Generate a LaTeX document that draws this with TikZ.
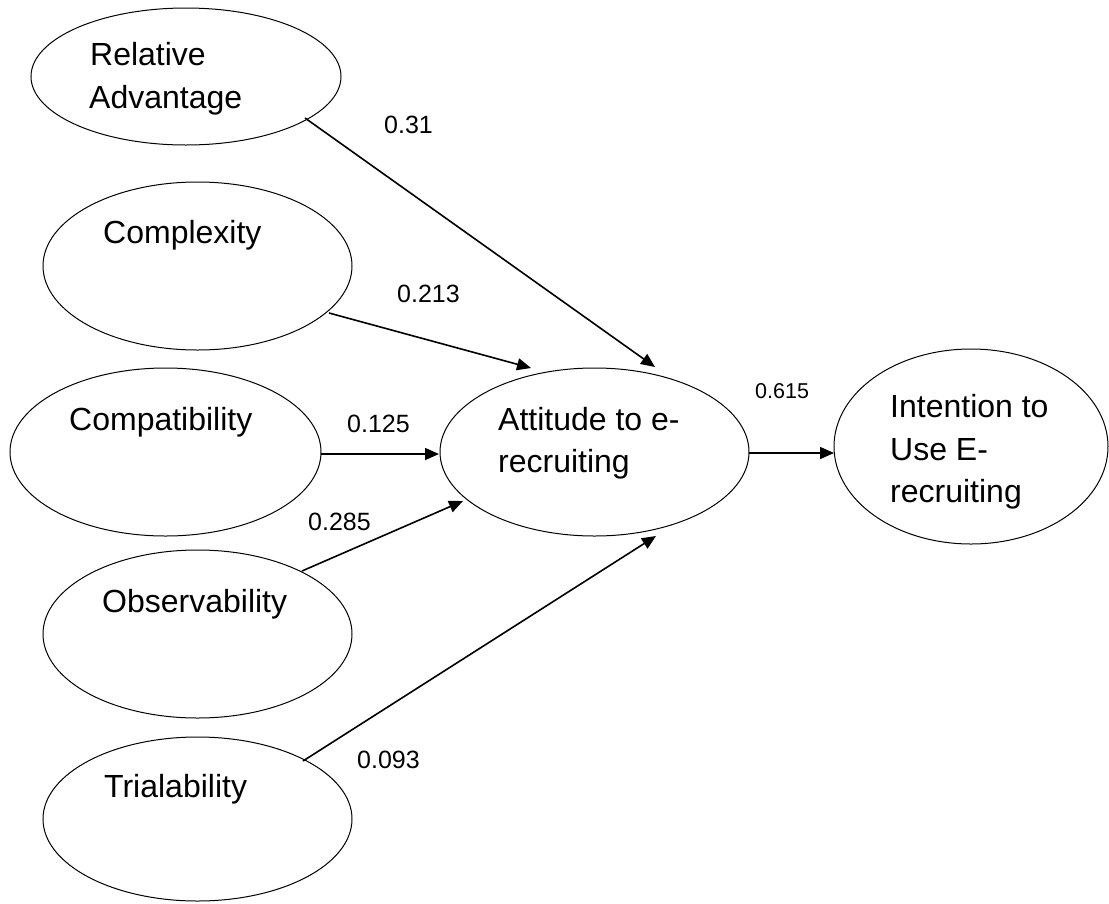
\documentclass[tikz,border=0pt]{standalone}
\usepackage{fontspec}
\setmainfont{Liberation Sans}
\usetikzlibrary{shapes.geometric,arrows.meta,calc}
\begin{document}
\begin{tikzpicture}[x=1pt,y=-1pt,
  oval/.style={draw,ellipse,line width=1pt,inner sep=0pt},
  txt/.style={anchor=base west,inner sep=0pt,font=\fontsize{32}{38}\selectfont},
  coef/.style={anchor=base west,inner sep=0pt,font=\fontsize{25}{30}\selectfont},
  path/.style={line width=1.6pt,-{Triangle[length=14pt,width=12pt]}}]
\useasboundingbox (0,0) rectangle (1109,903);
% ellipses
\node[oval,minimum width=310pt,minimum height=137pt] (ra) at (186,76.5) {};
\node[oval,minimum width=309pt,minimum height=168pt] (cx) at (197.5,266) {};
\node[oval,minimum width=311pt,minimum height=168pt] (cp) at (165.5,452) {};
\node[oval,minimum width=309pt,minimum height=168pt] (ob) at (197.5,634) {};
\node[oval,minimum width=309pt,minimum height=164pt] (tr) at (197.5,819) {};
\node[oval,minimum width=309pt,minimum height=168pt] (att) at (594.5,452) {};
\node[oval,minimum width=274pt,minimum height=195pt] (int) at (971,446.5) {};
% texts
\node[txt] (ra1) at (90,65) {Relative};
\node[txt] (ra2) at (89,108) {Advantage};
\node[txt] (cx1) at (103,243) {Complexity};
\node[txt] (cp1) at (69,430) {Compatibility};
\node[txt] (ob1) at (102,612) {Observability};
\node[txt] (tr1) at (104,797) {Trialability};
\node[txt] (at1) at (498,430) {Attitude to e-};
\node[txt] (at2) at (498,472) {recruiting};
\node[txt] (in1) at (890,417) {Intention to};
\node[txt] (in2) at (890,460) {Use E-};
\node[txt] (in3) at (890,502) {recruiting};
% connectors
\draw[path] ($(ra)+(119,41.5)$) -- ($(att)+(60.5,-85)$);
\draw[path] ($(cx)+(131.5,47)$) -- ($(att)+(-63.5,-84)$);
\draw[path] ($(cp)+(155.5,2)$) -- ($(att)+(-155.5,2)$);
\draw[path] ($(ob)+(104.5,-63)$) -- ($(att)+(-131.5,49)$);
\draw[path] ($(tr)+(105.5,-58)$) -- ($(att)+(61.5,84)$);
\draw[path] ($(att)+(154.5,1)$) -- ($(int)+(-137,6.5)$);
% coefficients
\node[coef] (c1) at (384,133) {0.31};
\node[coef] (c2) at (397,302) {0.213};
\node[coef] (c3) at (347,432) {0.125};
\node[coef] (c4) at (308,530) {0.285};
\node[coef] (c5) at (357,768) {0.093};
\node[coef,font=\fontsize{21.5}{26}\selectfont] (c6) at (755,398) {0.615};
\end{tikzpicture}
\end{document}
